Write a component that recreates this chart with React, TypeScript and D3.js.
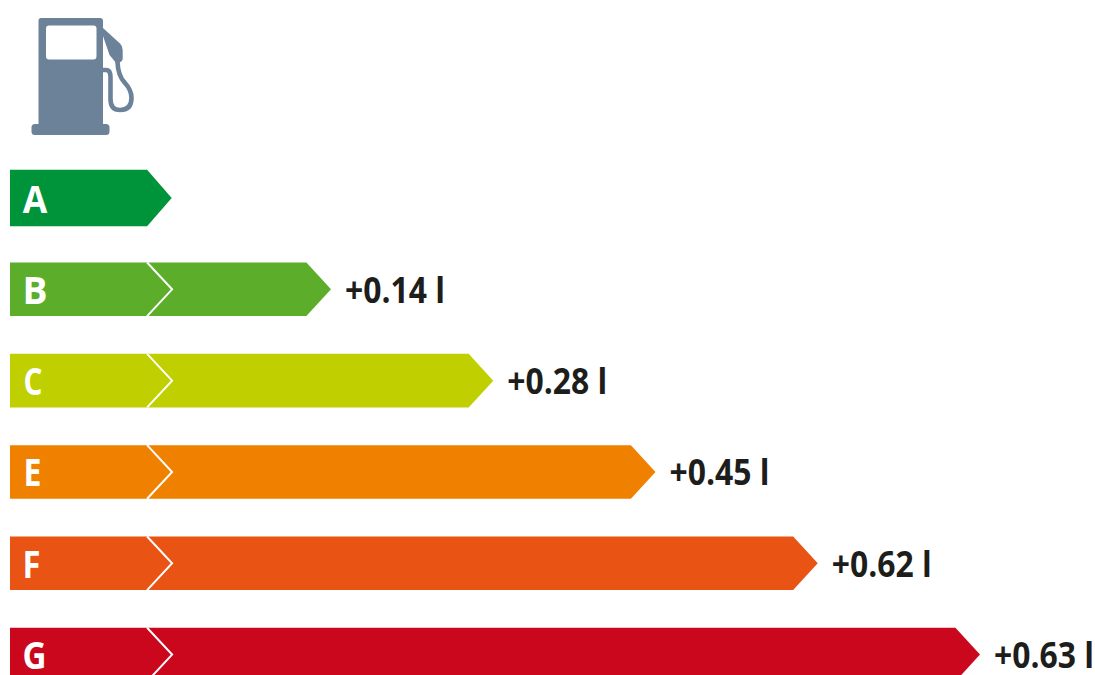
import React from "react";
import * as d3 from "d3";

// Efficiency classes and the extra fuel use per 100 km relative to class A.
const grades = ["A", "B", "C", "E", "F", "G"];
const extraLitres: (number | null)[] = [null, 0.14, 0.28, 0.45, 0.62, 0.63];
const gradeColors = ["#00943A", "#5BAD2A", "#C0CF00", "#F08000", "#E95314", "#CB071D"];

const WIDTH = 1095;
const HEIGHT = 675;
const BAR_LEFT = 10;
const TIP_DEPTH = 24.6;
const BASE_TIP = 171.7;

// The arrow lengths step evenly by class, as on an energy label; class A is the short base arrow.
const longerGrades = grades.slice(1);
const longerTipX = d3.scalePoint<string>().domain(longerGrades).range([331, 980]);
const tipX = (grade: string) => longerTipX(grade) ?? BASE_TIP;
const rowY = d3.scalePoint<string>().domain(grades).range([198, 654.6]);
const fillOf = d3.scaleOrdinal<string, string>().domain(grades).range(gradeColors);
const formatLitres = d3.format("+.2f");

const arrow = d3.line();

// Fitted width and centre of each class letter inside its arrow.
const letterFit: Record<string, { cx: number; len: number }> = {
  A: { cx: 35, len: 24.5 },
  B: { cx: 35, len: 25 },
  C: { cx: 33, len: 19 },
  E: { cx: 32.5, len: 18 },
  F: { cx: 31.5, len: 18 },
  G: { cx: 34.5, len: 24 },
};

function barPath(grade: string): string {
  const tip = tipX(grade);
  const mid = rowY(grade)!;
  const half = grade === "A" ? 28.2 : 26.8;
  return (
    arrow([
      [BAR_LEFT, mid - half],
      [tip - TIP_DEPTH, mid - half],
      [tip, mid],
      [tip - TIP_DEPTH, mid + half],
      [BAR_LEFT, mid + half],
    ]) + "Z"
  );
}

function chevronPath(grade: string): string {
  const mid = rowY(grade)!;
  const half = 26.8;
  return arrow([
    [BASE_TIP - TIP_DEPTH, mid - half],
    [BASE_TIP + 0.4, mid],
    [BASE_TIP - TIP_DEPTH, mid + half],
  ])!;
}

function FuelPump() {
  const color = "#6C8299";
  return (
    <g>
      <path
        fill={color}
        fillRule="evenodd"
        d="M41 18H100Q103 18 103 21V124H106Q109.500 124 109.500 127.500V131.500Q109.500 135 106 135H35Q31.500 135 31.500 131.500V127.500Q31.500 124 35 124H38.500V21Q38.500 18 41 18ZM49 25.500Q46 25.500 46 28.500V56Q46 59.500 49 59.500H93.500Q96.500 59.500 96.500 56V28.500Q96.500 25.500 93.500 25.500Z"
      />
      <path
        fill={color}
        d="M103 28L120 43.500Q122.700 46 122.700 50V59Q122.700 61 118 63.500L116.500 63.500L109.500 55L103 36Z"
      />
      <path
        fill="none"
        stroke={color}
        strokeWidth={4.6}
        d="M103 70H106Q110.500 70 110.500 77V99Q110.500 110 120 110Q131.500 110 131.500 98Q131.500 90 125 83Q118 76 117.500 62"
      />
    </g>
  );
}

export default function App() {
  const bars = d3.zip(grades, extraLitres) as [string, number | null][];
  return (
    <svg
      width={WIDTH}
      height={HEIGHT}
      viewBox={`0 0 ${WIDTH} ${HEIGHT}`}
      style={{ position: "absolute", left: 0, top: 0, background: "#fff" }}
      fontFamily="'Open Sans', 'Noto Sans', sans-serif"
      fontWeight={700}
    >
      <FuelPump />
      {bars.map(([grade, litres]) => {
        const mid = rowY(grade)!;
        return (
          <g key={grade}>
            <path d={barPath(grade)} fill={fillOf(grade)} />
            {litres !== null && (
              <path d={chevronPath(grade)} fill="none" stroke="#fff" strokeWidth={2} />
            )}
            <text
              x={letterFit[grade].cx}
              y={mid + 14.5}
              fill="#fff"
              fontSize={38}
              textAnchor="middle"
              textLength={letterFit[grade].len}
              lengthAdjust="spacingAndGlyphs"
            >
              {grade}
            </text>
            {litres !== null && (
              <text
                x={tipX(grade) + 14}
                y={mid + 13.5}
                fill="#1D1D1B"
                fontSize={35}
                textLength={100}
                lengthAdjust="spacingAndGlyphs"
              >
                {`${formatLitres(litres)} l`}
              </text>
            )}
          </g>
        );
      })}
    </svg>
  );
}
